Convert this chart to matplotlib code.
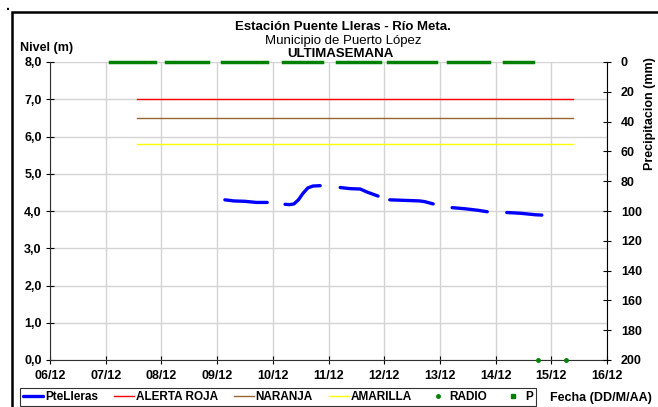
#!/usr/bin/env python3
"""
Nivel del rio Meta en la estacion Puente Lleras, ultima semana.
"""
import numpy as np
import matplotlib
matplotlib.use("Agg")
import matplotlib.pyplot as plt
from matplotlib.patches import Rectangle

plt.rcParams["font.family"] = ["Liberation Sans", "DejaVu Sans"]

# x = dias desde 06/12
dias = ["06/12", "07/12", "08/12", "09/12", "10/12", "11/12",
        "12/12", "13/12", "14/12", "15/12", "16/12"]
nivel_ticks = ["0,0", "1,0", "2,0", "3,0", "4,0", "5,0", "6,0", "7,0", "8,0"]

# PteLleras, tramos separados (NaN entre tramos)
t_nivel = [3.14, 3.30, 3.50, 3.70, 3.90, np.nan,
           4.22, 4.30, 4.38, 4.46, 4.54, 4.63, 4.72, 4.85, np.nan,
           5.21, 5.39, 5.57, 5.69, 5.89, np.nan,
           6.10, 6.28, 6.64, 6.73, 6.88, np.nan,
           7.22, 7.45, 7.68, 7.85, np.nan,
           8.20, 8.44, 8.71, 8.83]
nivel = [4.30, 4.27, 4.26, 4.23, 4.23, np.nan,
         4.18, 4.17, 4.19, 4.30, 4.47, 4.62, 4.67, 4.68, np.nan,
         4.63, 4.60, 4.59, 4.51, 4.40, np.nan,
         4.30, 4.29, 4.27, 4.25, 4.19, np.nan,
         4.09, 4.06, 4.02, 3.98, np.nan,
         3.96, 3.94, 3.90, 3.89]

# umbrales de alerta
t_alerta = [1.56, 9.39]
alerta_roja = 7.0
naranja = 6.5
amarilla = 5.8

# precipitacion (mm), tramos con registro
t_p = [1.08, 1.89, np.nan, 2.08, 2.84, np.nan, 3.09, 3.89, np.nan,
       4.18, 4.88, np.nan, 5.15, 5.92, np.nan, 6.07, 6.93, np.nan,
       7.15, 7.88, np.nan, 8.15, 8.67]
p = [0, 0, np.nan, 0, 0, np.nan, 0, 0, np.nan,
     0, 0, np.nan, 0, 0, np.nan, 0, 0, np.nan,
     0, 0, np.nan, 0, 0]

t_radio = [8.76, 9.26]
radio = [0.0, 0.0]

W, H = 658, 407
fs = 9
fig = plt.figure(figsize=(W / 100, H / 100), dpi=100)
ax = fig.add_axes([50 / W, 1 - 360 / H, 557 / W, 298 / H])
ax2 = ax.twinx()

ax.set_xlim(0, 10)
ax.set_ylim(0, 8)
ax.set_xticks(range(len(dias)))
ax.set_xticklabels(dias, fontweight="bold", fontsize=fs)
ax.set_yticks(range(len(nivel_ticks)))
ax.set_yticklabels(nivel_ticks, fontweight="bold", fontsize=fs)
ax.grid(True, color="#d4d4d4", lw=1)
ax.set_axisbelow(True)
ax.tick_params(direction="inout", length=6, width=0.8, pad=3)
ax.tick_params(axis="x", pad=4)
for s in ["top", "right"]:
    ax.spines[s].set_visible(False)
ax.spines["left"].set_color("#303030")
ax.spines["bottom"].set_color("#303030")

l1, = ax.plot(t_nivel, nivel, color="#0000ff", lw=2.4, solid_capstyle="round",
              label="PteLleras")
l2, = ax.plot(t_alerta, [alerta_roja] * 2, color="#ff0000", lw=1,
              label="ALERTA ROJA")
l3, = ax.plot(t_alerta, [naranja] * 2, color="#996633", lw=1, label="NARANJA")
l4, = ax.plot(t_alerta, [amarilla] * 2, color="#ffff00", lw=1, label="AMARILLA")
l5, = ax.plot(t_radio, radio, ls="none", marker="o", ms=2.5, color="#008000",
              label="RADIO", clip_on=False, zorder=5)

ax2.set_ylim(200, 0)
ax2.set_yticks(range(0, 201, 20))
ax2.set_yticklabels([str(v) for v in range(0, 201, 20)], fontweight="bold",
                    fontsize=fs)
ax2.tick_params(direction="inout", length=6, width=0.8, pad=7)
for s in ["top", "left", "bottom"]:
    ax2.spines[s].set_visible(False)
ax2.spines["right"].set_color("black")
l6, = ax2.plot(t_p, p, color="#008000", lw=2.5, clip_on=False,
               label="P")
l6m, = ax2.plot([], [], ls="none", marker="s", ms=2.5, color="#008000")

fig.text(343 / W, 1 - 27 / H, "Estación Puente Lleras - Río Meta.",
         ha="center", va="center", fontweight="bold", fontsize=9.5)
fig.text(343 / W, 1 - 41 / H, "Municipio de Puerto López",
         ha="center", va="center", fontsize=9.5)
fig.text(340 / W, 1 - 54 / H, "ULTIMASEMANA",
         ha="center", va="center", fontweight="bold", fontsize=9.5)
fig.text(20 / W, 1 - 48 / H, "Nivel (m)", ha="left", va="center",
         fontweight="bold", fontsize=fs)
fig.text(650 / W, 1 - 114 / H, "Precipitacion (mm)", ha="center", va="center",
         rotation=90, fontweight="bold", fontsize=fs)
fig.text(601 / W, 1 - 398 / H, "Fecha (DD/M/AA)", ha="center", va="center",
         fontweight="bold", fontsize=fs)
fig.text(8 / W, 1 - 6 / H, ".", ha="center", va="center", fontweight="bold",
         fontsize=10)

fig.patches.append(Rectangle((12 / W, -0.05), 1.0, 1 - 12 / H + 0.05,
                             transform=fig.transFigure, fill=False,
                             edgecolor="black", lw=1.8))

leg = fig.legend([l1, l2, l3, l4, l5, l6m],
                 ["PteLleras", "ALERTA ROJA", "NARANJA", "AMARILLA", "RADIO", "P"],
                 loc="center left", bbox_to_anchor=(20 / W, 1 - 397 / H),
                 ncol=6, frameon=True, fancybox=False, edgecolor="black",
                 prop={"weight": "bold", "size": 8.5}, handlelength=1.7,
                 handletextpad=0.15, columnspacing=1.35, borderpad=0.25,
                 borderaxespad=0)
leg.get_frame().set_linewidth(0.8)

fig.savefig("out.png", dpi=100)
